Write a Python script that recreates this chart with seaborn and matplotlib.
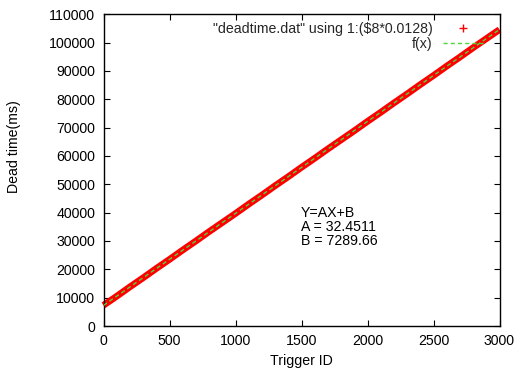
import numpy as np
import pandas as pd
import matplotlib
matplotlib.use("Agg")
import matplotlib.pyplot as plt
from matplotlib.lines import Line2D
import seaborn as sns

# ---- data ----
trigger_id = [0, 100, 200, 300, 400, 500, 600, 700, 800, 900, 1000,
              1100, 1200, 1300, 1400, 1500, 1600, 1700, 1800, 1900, 2000,
              2100, 2200, 2300, 2400, 2500, 2600, 2700, 2800, 2900, 3000]
dead_time = [7300, 10500, 13800, 17000, 20300, 23500, 26800, 30000, 33300, 36500, 39700,
             43000, 46200, 49500, 52700, 56000, 59200, 62500, 65700, 68900, 72200,
             75400, 78700, 81900, 85200, 88400, 91700, 94900, 98200, 101400, 104600]
fit_A = 32.4511
fit_B = 7289.66
fit_x = [0, 3000]

x_ticks = [0, 500, 1000, 1500, 2000, 2500, 3000]
y_ticks = list(range(0, 110001, 10000))

label_data = '"deadtime.dat" using 1:($8*0.0128)'
label_fit = 'f(x)'
annot_lines = ['Y=AX+B', 'A = 32.4511', 'B = 7289.66']

sns.set_theme(style="ticks")
plt.rcParams['font.family'] = ['Liberation Sans', 'DejaVu Sans']

df = pd.DataFrame({'x': trigger_id, 'y': dead_time})
fit_df = pd.DataFrame({'x': fit_x, 'y': [fit_A * v + fit_B for v in fit_x]})

fig = plt.figure(figsize=(5.22, 3.72), dpi=100)
ax = fig.add_axes([103.5 / 522, 1 - 326 / 372, (499.5 - 103.5) / 522, (326 - 14.3) / 372])

fs = 10.2
red = '#ff0000'
green = '#4fd83a'
sns.lineplot(data=df, x='x', y='y', ax=ax, color=red, lw=4.8,
             legend=False, clip_on=False, zorder=2)
sns.lineplot(data=fit_df, x='x', y='y', ax=ax, color=green, lw=1.0,
             legend=False, zorder=3)
ax.lines[-1].set_linestyle((0, (3, 2.2)))
ax.lines[0].set_solid_capstyle('butt')

ax.set_xlim(0, 3000)
ax.set_ylim(0, 110000)
ax.set_xticks(x_ticks)
ax.set_yticks(y_ticks)
ax.set_xticklabels([str(v) for v in x_ticks], fontsize=fs)
ax.set_yticklabels([str(v) for v in y_ticks], fontsize=fs)
ax.tick_params(direction='in', length=4, width=0.8, color='black', top=True, right=True,
               labelcolor='black', pad=6)
for s in ax.spines.values():
    s.set_visible(True)
    s.set_color('black')
    s.set_linewidth(1.0)
ax.set_xlabel('Trigger ID', fontsize=fs, color='black', va='center')
ax.set_ylabel('Dead time(ms)', fontsize=fs, color='black', va='center')
ax.xaxis.set_label_coords(0.5, (326 - 361) / 311.7)
ax.yaxis.set_label_coords((14 - 103.5) / 396, (326 - 147) / 311.7)

handles = [Line2D([], [], color=red, marker='+', linestyle='none', markersize=6, markeredgewidth=1),
           Line2D([], [], color=green, lw=1.0, linestyle=(0, (3, 2.2)))]
leg = ax.legend(handles, [label_data, label_fit], loc='upper right', frameon=False,
                markerfirst=False, fontsize=fs, handlelength=2.8, handletextpad=0.75,
                borderpad=0.0, borderaxespad=1.3, labelspacing=0.05,
                bbox_to_anchor=(1.005, 1.034))

ys = [39880, 34940, 30000]
for t, yv in zip(annot_lines, ys):
    ax.text(1496, yv, t, fontsize=fs, color='black', ha='left', va='center')

fig.savefig('out.png', dpi=100)
